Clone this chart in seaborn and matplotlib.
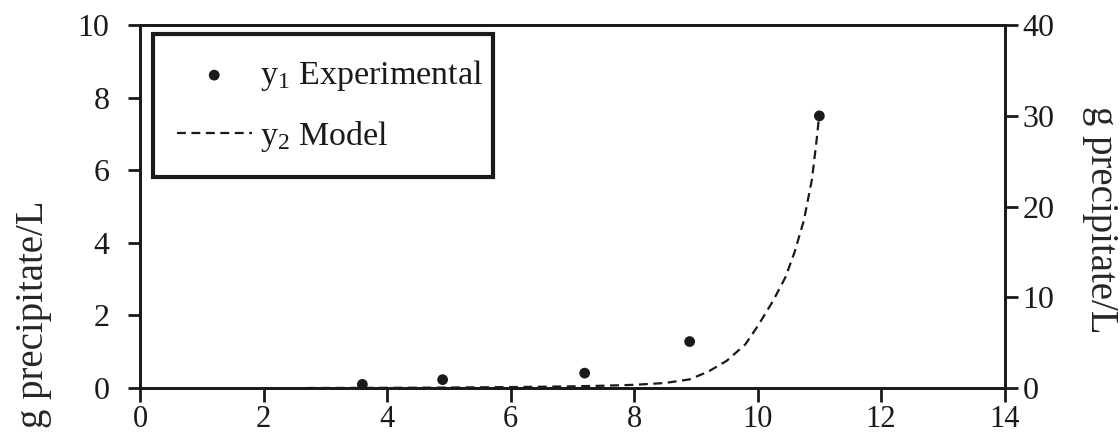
import matplotlib
matplotlib.use('Agg')
import matplotlib.pyplot as plt
import seaborn as sns
import pandas as pd

# experimental points (left axis, g precipitate/L)
x_exp = [3.6, 4.9, 7.2, 8.9, 11.0]
y_exp = [0.1, 0.23, 0.41, 1.28, 7.5]

# model curve (right axis, g precipitate/L)
x_model = [2.7, 4.0, 5.0, 6.0, 7.0, 7.5, 8.0, 8.5, 8.9, 9.2, 9.5, 9.8,
           10.0, 10.25, 10.45, 10.6, 10.75, 10.88, 10.95, 11.0]
y_model = [0.0, 0.02, 0.05, 0.1, 0.18, 0.25, 0.35, 0.55, 0.95, 1.8, 3.0, 4.8,
           6.8, 9.6, 12.2, 15.0, 18.5, 23.0, 27.0, 30.2]

df_exp = pd.DataFrame({'x': x_exp, 'y': y_exp})
df_model = pd.DataFrame({'x': x_model, 'y': y_model})

sns.set_style('ticks')
plt.rcParams['font.family'] = ['Liberation Serif', 'DejaVu Serif']
plt.rcParams['mathtext.fontset'] = 'custom'
plt.rcParams['mathtext.rm'] = 'Liberation Serif'
ink = '#1a1a1a'
plt.rcParams['text.color'] = ink
plt.rcParams['xtick.color'] = ink
plt.rcParams['ytick.color'] = ink

fig, ax = plt.subplots(figsize=(11.2, 4.34), dpi=100)
fig.subplots_adjust(left=0.125, right=0.897, top=0.942, bottom=0.106)
ax2 = ax.twinx()

sns.scatterplot(data=df_exp, x='x', y='y', ax=ax, color=ink, s=60,
                edgecolor='none', label=r'$\mathregular{y_1}$ Experimental', legend=False)
sns.lineplot(data=df_model, x='x', y='y', ax=ax2, color=ink, lw=1.6,
             linestyle=(0, (4, 2.5)), label=r'$\mathregular{y_2}$ Model', legend=False)

ax.set_xlim(0, 14)
ax.set_ylim(0, 10)
ax2.set_ylim(0, 40)
ax.set_xticks(range(0, 15, 2))
ax.set_yticks(range(0, 11, 2))
ax2.set_yticks(range(0, 41, 10))

for a in (ax, ax2):
    for s in a.spines.values():
        s.set_linewidth(2)
        s.set_color(ink)
    a.set_xlabel('')

ax.tick_params(axis='y', labelsize=23, length=9, width=2, pad=13)
ax.tick_params(axis='x', labelsize=22, length=10, width=2, pad=2)
ax2.tick_params(axis='y', labelsize=23, length=9, width=2, pad=4)

ax.set_ylabel('g precipitate/L', fontsize=28)
ax.yaxis.set_label_coords(-0.102, 0.203)
ax2.set_ylabel('g precipitate/L', fontsize=28, rotation=270)
ax2.yaxis.set_label_coords(1.132, 0.463)

h1, l1 = ax.get_legend_handles_labels()
h2, l2 = ax2.get_legend_handles_labels()
leg = ax2.legend(h1 + h2, l1 + l2, loc='upper left',
                 bbox_to_anchor=(0.015, 0.579, 0.393, 0.396), mode='expand',
                 fontsize=24.5, frameon=True, fancybox=False, framealpha=1,
                 borderpad=0.7, labelspacing=0.75, handlelength=2.2,
                 handletextpad=0.25, borderaxespad=0)
leg.get_frame().set_edgecolor(ink)
leg.get_frame().set_linewidth(3)

fig.savefig('out.png', dpi=100)
